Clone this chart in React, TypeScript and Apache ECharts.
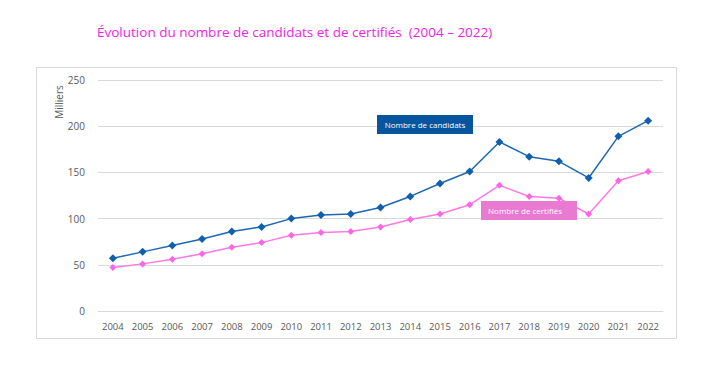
import React, { useEffect, useRef } from "react";
import * as echarts from "echarts";

const years = ["2004","2005","2006","2007","2008","2009","2010","2011","2012","2013","2014","2015","2016","2017","2018","2019","2020","2021","2022"];
const candidats = [57, 64, 71, 78, 86, 91, 100, 104, 105, 112, 124, 138, 151, 183, 167, 162, 144, 189, 206];
const certifies = [47, 51, 56, 62, 69, 74, 82, 85, 86, 91, 99, 105, 115, 136, 124, 122, 105, 141, 151];
const yTicks = [0, 50, 100, 150, 200, 250];

const FONT = "'Open Sans', 'Liberation Sans', sans-serif";

export default function App() {
  const ref = useRef<HTMLDivElement>(null);
  useEffect(() => {
    if (!ref.current) return;
    const chart = echarts.init(ref.current, null, { renderer: "svg" });
    chart.setOption({
      animation: false,
      backgroundColor: "#ffffff",
      title: {
        text: "Évolution du nombre de candidats et de certifiés  (2004 – 2022)",
        left: 92,
        top: 20,
        textStyle: { color: "#f01ee6", fontSize: 13.5, fontWeight: "normal", fontFamily: FONT },
      },
      grid: { left: 98, right: 52, top: 80, bottom: 57 },
      xAxis: {
        type: "category",
        data: years,
        boundaryGap: true,
        axisLine: { show: true, lineStyle: { color: "#d9d9d9" } },
        axisTick: { show: false },
        axisLabel: { color: "#595959", fontSize: 9.5, fontFamily: FONT, margin: 10, interval: 0 },
      },
      yAxis: {
        type: "value",
        min: yTicks[0],
        max: yTicks[yTicks.length - 1],
        interval: 50,
        axisLine: { show: false },
        axisTick: { show: false },
        splitLine: { lineStyle: { color: "#d9d9d9", width: 1 } },
        axisLabel: { color: "#595959", fontSize: 10, fontFamily: FONT, margin: 13 },
      },
      series: [
        {
          name: "Nombre de candidats",
          type: "line",
          data: candidats,
          symbol: "diamond",
          symbolSize: 8,
          lineStyle: { color: "#1c68b4", width: 1.5 },
          itemStyle: { color: "#0f5fac" },
        },
        {
          name: "Nombre de certifiés",
          type: "line",
          data: certifies,
          symbol: "diamond",
          symbolSize: 7,
          lineStyle: { color: "#ff78e8", width: 1.5 },
          itemStyle: { color: "#ff66e4" },
        },
      ],
      graphic: [
        {
          type: "rect",
          shape: { x: 36.5, y: 67.5, width: 640, height: 271 },
          style: { fill: "none", stroke: "#d9d9d9", lineWidth: 1 },
          silent: true,
          z: -1,
        },
        {
          type: "text",
          x: 59,
          y: 102,
          rotation: Math.PI / 2,
          z: 100,
          style: { text: "Milliers", fill: "#595959", fontSize: 10, fontFamily: FONT, align: "center", verticalAlign: "middle" },
        },
        {
          type: "group",
          z: 100,
          children: [
            { type: "rect", z: 100, shape: { x: 377, y: 115, width: 96, height: 19 }, style: { fill: "#07559f" } },
            {
              type: "text",
              z: 101,
              x: 425, y: 124.5,
              style: { text: "Nombre de candidats", fill: "#ffffff", fontSize: 8, fontFamily: FONT, align: "center", verticalAlign: "middle" },
            },
          ],
        },
        {
          type: "group",
          z: 100,
          children: [
            { type: "rect", z: 100, shape: { x: 481, y: 201, width: 96, height: 19 }, style: { fill: "#e97ad2" } },
            {
              type: "text",
              z: 101,
              x: 525, y: 210.5,
              style: { text: "Nombre de certifiés", fill: "#ffffff", fontSize: 8, fontFamily: FONT, align: "center", verticalAlign: "middle" },
            },
          ],
        },
      ],
    });
    return () => chart.dispose();
  }, []);
  return <div ref={ref} style={{ position: "fixed", left: 0, top: 0, width: 715, height: 368 }} />;
}
